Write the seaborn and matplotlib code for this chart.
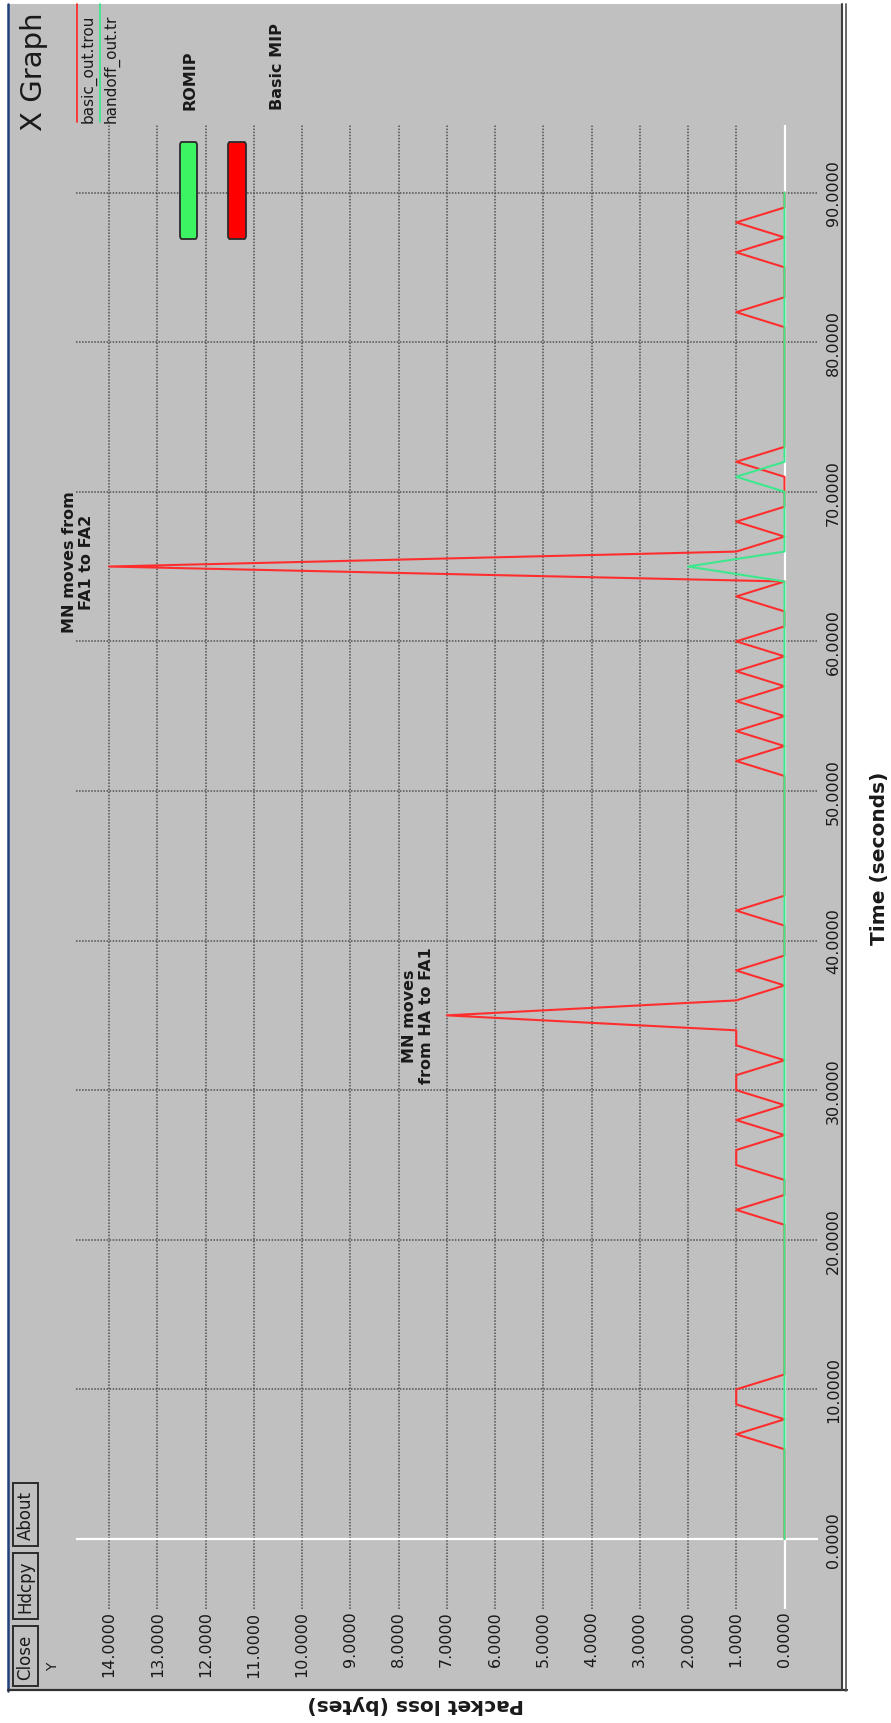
import matplotlib
matplotlib.use("Agg")
import matplotlib.pyplot as plt
from matplotlib.patches import Rectangle, FancyBboxPatch
from matplotlib.lines import Line2D
import seaborn as sns

# ---------------------------------------------------------------- data
time_s = list(range(0, 91))

# packet loss per second, Basic MIP (basic_out.tr)
basic_mip_loss = [
    0, 0, 0, 0, 0, 0,                 # 0-5
    0, 1, 0, 1, 1, 0,                 # 6-11
    0, 0, 0, 0, 0, 0, 0, 0, 0,        # 12-20
    0, 1, 0, 0, 1, 1, 0, 1, 0, 1,     # 21-30
    1, 0, 1, 1, 7, 1, 0, 1, 0, 0,     # 31-40
    0, 1, 0, 0, 0, 0, 0, 0, 0, 0,     # 41-50
    0, 1, 0, 1, 0, 1, 0, 1, 0, 1,     # 51-60
    0, 0, 1, 0, 14, 1, 0, 1, 0, 0,    # 61-70
    0, 1, 0, 0, 0, 0, 0, 0, 0, 0,     # 71-80
    0, 1, 0, 0, 0, 1, 0, 1, 0, 0,     # 81-90
]

# packet loss per second, ROMIP (handoff_out.tr)
romip_loss = [0] * 91
romip_loss[65] = 2
romip_loss[71] = 1

loss_ticks = list(range(0, 15))
time_ticks = list(range(0, 91, 10))

series_names = ["basic_out.trou", "handoff_out.tr"]
key_names = ["ROMIP", "Basic MIP"]
title_text = "X Graph"
buttons = ["About", "Hdcpy", "Close"]
x_title = "Time (seconds)"
y_title = "Packet loss (bytes)"
note_fa1 = "MN moves\nfrom HA to FA1"
note_fa2 = "MN moves from\nFA1 to FA2"

RED = "#ff2e2e"
GREEN = "#3de88c"
BG = "#c0c0c0"
INK = "#1a1a1a"

# ---------------------------------------------------------------- figure
W, H = 891, 1724
sns.set_style("white")
plt.rcParams["font.family"] = ["DejaVu Sans"]

fig = plt.figure(figsize=(W / 100, H / 100), dpi=100, facecolor="white")


def fx(x):
    return x / W


def fy(y):
    return 1 - y / H


def ftext(x, y, s, **kw):
    return fig.text(fx(x), fy(y), s, **kw)


def fline(xs, ys, **kw):
    fig.add_artist(Line2D([fx(v) for v in xs], [fy(v) for v in ys],
                          transform=fig.transFigure, **kw))


# window body and frame
window = Rectangle((fx(9), fy(1691)), (841 - 9) / W, (1691 - 5) / H,
                   transform=fig.transFigure, facecolor=BG,
                   edgecolor="none", zorder=0)
fig.add_artist(window)
fline([8, 8], [5, 1692], color="#22407a", lw=1.8)
fline([8, 847], [1691, 1691], color="#303030", lw=1.6)
fline([841.5, 841.5], [5, 1691], color="#404040", lw=1.5)
fline([846, 846], [5, 1692], color="#505050", lw=1.2)

# ---------------------------------------------------------------- plot area
ax_left, ax_right, ax_top, ax_bottom = 76, 818, 126, 1610
ax = fig.add_axes([fx(ax_left), fy(ax_bottom),
                   (ax_right - ax_left) / W, (ax_bottom - ax_top) / H])
ax.set_facecolor("none")

sns.lineplot(x=basic_mip_loss, y=time_s, orient="y", sort=False,
             estimator=None, color=RED, linewidth=1.5, ax=ax, zorder=3)
sns.lineplot(x=romip_loss, y=time_s, orient="y", sort=False,
             estimator=None, color=GREEN, linewidth=1.5, ax=ax, zorder=4)

# loss 0 sits at x=784.5 px, 48.25 px per unit; time 0 at y=1540 px,
# 14.961 px per second
px_per_loss = 48.25
px_per_sec = 14.961
ax.set_xlim((784.5 - ax_left) / px_per_loss, (784.5 - ax_right) / px_per_loss)
ax.set_ylim((1540 - ax_bottom) / px_per_sec, (1540 - ax_top) / px_per_sec)

ax.set_xticks(loss_ticks)
ax.set_yticks(time_ticks)
ax.set_xticklabels([f"{v:.4f}" for v in loss_ticks], rotation=90,
                   fontsize=11.5, color=INK)
ax.yaxis.tick_right()
ax.set_yticklabels([f"{v:.4f}" for v in time_ticks], rotation=90,
                   va="center", fontsize=11.5, color=INK)
ax.tick_params(axis="x", length=0, pad=1)
ax.tick_params(axis="y", length=0, pad=5.8)
ax.set_xlabel("")
ax.set_ylabel("")
for sp in ax.spines.values():
    sp.set_visible(False)

ax.set_axisbelow(True)
ax.grid(True, color="#505050", linestyle=(0, (1.0, 1.0)), linewidth=1.1)
ax.axvline(0, color="white", lw=1.6, zorder=1.5)
ax.axhline(0, color="white", lw=1.6, zorder=1.5)

# ---------------------------------------------------------------- chrome text
ftext(34, 72, title_text, rotation=90, ha="center", va="center",
      fontsize=21, color=INK)

# series legend at the top
for xline, xtxt, col, name in [(77, 80, RED, series_names[0]),
                               (100, 103, GREEN, series_names[1])]:
    fline([xline, xline], [5, 123], color=col, lw=1.3)
    t = ftext(xtxt, 123, name, rotation=90, ha="left", va="bottom",
              fontsize=11, color=INK)
    t.set_clip_path(window)

# coloured key boxes
for (x0, x1, col) in [(180, 197, "#3cf462"), (228, 246, "#ff0000")]:
    fig.add_artist(FancyBboxPatch((fx(x0), fy(240)), (x1 - x0) / W,
                                  (240 - 143) / H,
                                  boxstyle="round,pad=0,rounding_size=0.002",
                                  transform=fig.transFigure, facecolor=col,
                                  edgecolor="#2b2b2b", lw=1.3, zorder=5))
ftext(190, 110, key_names[0], rotation=90, ha="center", va="bottom",
      fontsize=11.5, fontweight="bold", color=INK)
ftext(277, 110, key_names[1], rotation=90, ha="center", va="bottom",
      fontsize=11.5, fontweight="bold", color=INK)

# handoff notes
ftext(78, 562, note_fa2, rotation=90, ha="center", va="center",
      multialignment="center", fontsize=11.5, fontweight="bold", color=INK)
ftext(418, 1016, note_fa1, rotation=90, ha="center", va="center",
      multialignment="center", fontsize=11.5, fontweight="bold", color=INK)

# window buttons
for name, (y0, y1) in zip(buttons, [(1484, 1547), (1554, 1620), (1627, 1687)]):
    fig.add_artist(Rectangle((fx(13), fy(y1)), (38 - 13) / W, (y1 - y0) / H,
                             transform=fig.transFigure, facecolor=BG,
                             edgecolor="#2b2b2b", lw=1.4, zorder=5))
    ftext(25.5, (y0 + y1) / 2, name, rotation=90, ha="center", va="center",
          fontsize=12, color=INK, zorder=6)
ftext(53, 1667, "Y", rotation=90, ha="center", va="center", fontsize=10,
      color=INK)

# axis titles outside the window
ftext(879, 858, x_title, rotation=90, ha="center", va="center",
      fontsize=14.5, fontweight="bold", color=INK)
ftext(416, 1705, y_title, rotation=180, ha="center", va="center",
      fontsize=14.5, fontweight="bold", color=INK)

fig.savefig("out.png", dpi=100, facecolor="white")
